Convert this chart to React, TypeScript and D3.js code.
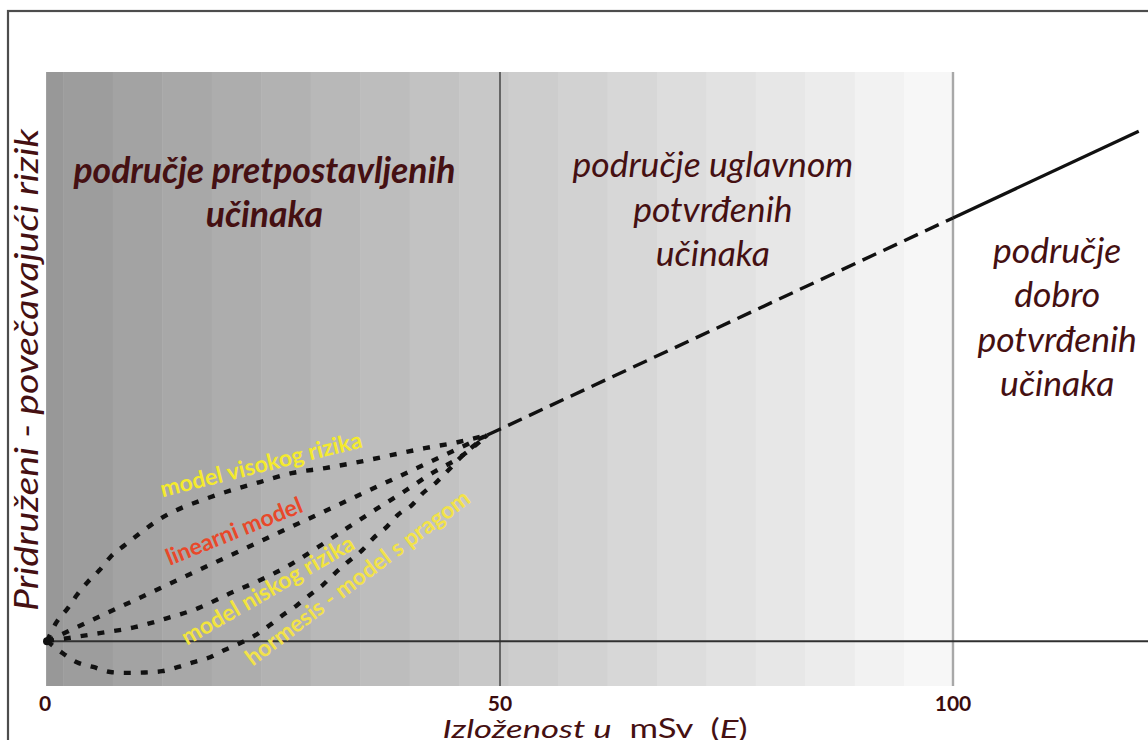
import React from "react";
import * as d3 from "d3";

// ---- data (dose in mSv, associated risk in the same relative units) ----
const xTicks = [0, 50, 100];
const highRisk: [number, number][] = [
  [0, 0], [1, 4.3], [2.3, 7.8], [3.3, 10.9], [4.5, 14], [5.8, 16.8], [7, 19.9], [8.6, 22.7],
  [12.8, 29.3], [18, 34], [23.5, 37.6], [27, 39.7], [30.7, 40.9], [34.3, 42.3], [38.1, 44],
  [41.7, 45.6], [45.3, 47], [48.6, 48.7],
];
const linearModel: [number, number][] = [[0, 0], [48.6, 48.7]];
const lowRisk: [number, number][] = [
  [0, 0], [2.3, 0.7], [5.8, 1.9], [9.7, 3.3], [13.2, 5.4], [16.7, 7.8], [20.2, 11.3], [23.5, 14.4],
  [26.8, 18], [29.9, 22.2], [33.1, 26.7], [36.2, 31], [39.3, 35.2], [42.5, 39.7], [45.6, 43.5],
  [48.6, 48.7],
];
const hormesis: [number, number][] = [
  [0, 0], [1.7, -2.8], [3.3, -5], [5.1, -6.1], [7, -7.3], [8.8, -7.5], [10.8, -7.4], [12.7, -7.1],
  [14.5, -6.1], [16.1, -5], [18, -3.8], [19.6, -2.1], [21.3, -0.5], [23, 1.4], [24.6, 3.8], [26, 6.1],
  [27.6, 8.5], [29, 10.9], [30.4, 13.2], [31.8, 16.1], [33.2, 18.7], [34.8, 21.5], [36, 24.3],
  [37.5, 27], [38.7, 29.8], [40.3, 32.2], [41.5, 35], [43, 37.6], [44.3, 40.4], [45.6, 43.3],
  [47, 46], [48.6, 48.7],
];
const confirmedDashed: [number, number][] = [[48.6, 48.7], [100, 100]];
const confirmedSolid: [number, number][] = [[100, 100], [120.5, 120.5]];

const regionLabels = [
  { lines: ["područje pretpostavljenih", "učinaka"], x: 24, y: 108.3, bold: true },
  { lines: ["područje uglavnom", "potvrđenih", "učinaka"], x: 73.5, y: 109.6, bold: false },
  { lines: ["područje", "dobro", "potvrđenih", "učinaka"], x: 111.5, y: 89.4, bold: false },
];
const curveLabels = [
  { text: "model visokog rizika", x: 23.6, y: 42, angle: -14, color: "#f4ea2e" },
  { text: "linearni model", x: 20.6, y: 26.2, angle: -22, color: "#e8482a" },
  { text: "model niskog rizika", x: 24.3, y: 12.3, angle: -30, color: "#f2e43e" },
  { text: "hormesis - model s pragom", x: 34.2, y: 15.2, angle: -37, color: "#f2e24a" },
];

const W = 1148;
const H = 740;
const maroon = "#451012";

export default function App() {
  const x = d3.scaleLinear().domain([0, 100]).range([47, 953]);
  const y = d3.scaleLinear().domain([-10.6, 134.5]).range([686, 72]);
  const line = d3
    .line<[number, number]>()
    .x((d) => x(d[0]))
    .y((d) => y(d[1]))
    .curve(d3.curveMonotoneX);

  // background bands (lighter towards higher dose)
  const bandStep = 5.46;
  const edges = [-0.1, ...d3.range(1.8, 100, bandStep), 100];
  const shade = d3.scaleLinear<number>().domain([0, edges.length - 2]).range([152, 247]);
  const bands = edges.slice(0, -1).map((e, i) => {
    const g = Math.round(shade(i));
    return { x0: e, x1: edges[i + 1], color: `rgb(${g},${g},${g})` };
  });

  return (
    <svg
      width={W}
      height={H}
      style={{ position: "absolute", left: 0, top: 0, background: "#fff" }}
      fontFamily="Lato, 'Open Sans', sans-serif"
    >
      <rect x={0} y={0} width={W} height={H} fill="#fff" />
      <rect x={8} y={11} width={W + 20} height={H + 20} fill="none" stroke="#4d4d4d" strokeWidth={2.2} />

      {bands.map((b, i) => (
        <rect
          key={i}
          x={x(b.x0)}
          y={y(134.5)}
          width={x(b.x1) - x(b.x0) + 0.5}
          height={y(-10.6) - y(134.5)}
          fill={b.color}
        />
      ))}

      {/* vertical boundaries */}
      <line x1={x(50)} x2={x(50)} y1={y(134.5)} y2={y(-10.6)} stroke="#3c3c3c" strokeWidth={1.4} />
      <line x1={x(100)} x2={x(100)} y1={y(134.5)} y2={y(-10.6)} stroke="#a8a8a8" strokeWidth={2.4} />
      {/* zero-risk baseline */}
      <line x1={x(0) - 1} x2={W} y1={y(0)} y2={y(0)} stroke="#303030" strokeWidth={2} />

      {/* models */}
      {[highRisk, linearModel, lowRisk, hormesis].map((d, i) => (
        <path
          key={i}
          d={line(d) || ""}
          fill="none"
          stroke="#111"
          strokeWidth={4.4}
          strokeDasharray="7 10"
        />
      ))}
      <circle cx={x(0)} cy={y(0)} r={4} fill="#111" />
      <path d={line(confirmedDashed) || ""} fill="none" stroke="#111" strokeWidth={3.4} strokeDasharray="15 8" />
      <path d={line(confirmedSolid) || ""} fill="none" stroke="#111" strokeWidth={3.2} />

      {/* curve labels */}
      {curveLabels.map((l, i) => (
        <text
          key={i}
          transform={`translate(${x(l.x)},${y(l.y)}) rotate(${l.angle})`}
          textAnchor="middle"
          dominantBaseline="central"
          fontSize={23}
          fontWeight={700}
          fill={l.color}
        >
          {l.text}
        </text>
      ))}

      {/* region labels */}
      {regionLabels.map((r, i) => (
        <text
          key={i}
          x={x(r.x)}
          y={y(r.y)}
          textAnchor="middle"
          fontSize={35.5}
          fontStyle="italic"
          fontWeight={r.bold ? 700 : 400}
          fill={maroon}
        >
          {r.lines.map((t, j) => (
            <tspan key={j} x={x(r.x)} dy={j === 0 ? 0 : 44.5}>
              {t}
            </tspan>
          ))}
        </text>
      ))}

      {/* tick labels */}
      {xTicks.map((t) => (
        <text
          key={t}
          x={x(t) - (t === 0 ? 2 : 0)}
          y={711}
          textAnchor="middle"
          fontSize={21}
          fontWeight={700}
          fill="#3a0b0d"
        >
          {t}
        </text>
      ))}

      {/* axis titles */}
      <text
        x={x(60.5)}
        y={738}
        textAnchor="middle"
        fontSize={26}
        fill={maroon}
        textLength={305}
        lengthAdjust="spacingAndGlyphs"
      >
        <tspan fontStyle="italic">Izloženost u</tspan>
        <tspan>{"\u00a0\u00a0mSv\u00a0\u00a0("}</tspan>
        <tspan fontStyle="italic">E</tspan>
        <tspan>)</tspan>
      </text>
      <text
        transform={`translate(38,${y(64.1)}) rotate(-90)`}
        textAnchor="middle"
        fontSize={32}
        fontStyle="italic"
        fill={maroon}
        textLength={482}
        lengthAdjust="spacingAndGlyphs"
      >
        Pridruženi - povečavajući rizik
      </text>
    </svg>
  );
}
